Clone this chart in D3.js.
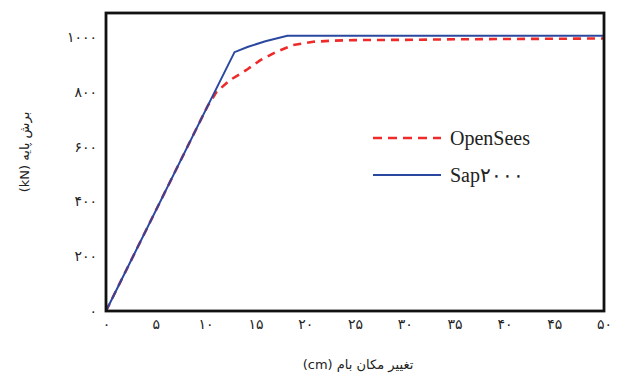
<!DOCTYPE html>
<html>
<head>
<meta charset="utf-8">
<script src="https://cdn.jsdelivr.net/npm/d3@7"></script>
<style>
  body { margin: 0; background: #fff; }
  .axis text { font-family: "DejaVu Sans", sans-serif; font-size: 14px; fill: #222; }
</style>
</head>
<body>
<svg id="chart" width="620" height="382"></svg>
<script>
// displacement (cm) and base shear (kN)
var openseesX = [0, 10.2, 11.1, 12.45, 14.1, 15.5, 17.1, 18.8, 20.8, 22.8, 25, 30, 35, 40, 50];
var openseesY = [0, 748, 800, 843, 880, 916, 946, 971, 983, 987, 989, 990, 992, 993, 995];
var sapX = [0, 10.2, 12.9, 14.2, 16, 18.2, 50];
var sapY = [0, 748, 945, 964, 985, 1005, 1005];
var xTicks = [0, 5, 10, 15, 20, 25, 30, 35, 40, 45, 50];
var yTicks = [0, 200, 400, 600, 800, 1000];
var seriesNames = ["OpenSees", "Sap۲۰۰۰"];

function fa(n){
	return String(n).replace(/[0-9]/g, function(d){ return "۰۱۲۳۴۵۶۷۸۹"[+d]; });
}

var svg = d3.select("#chart"),
	margin = {top: 13, right: 16, bottom: 71, left: 106},
	width = 620 - margin.left - margin.right,
	height = 382 - margin.top - margin.bottom,
	g = svg.append("g").attr("transform", "translate(" + margin.left + "," + margin.top + ")");

var x = d3.scaleLinear().domain([0, 50]).range([0, width]);
var y = d3.scaleLinear().domain([0, 1088]).range([height, 0]);

var line = d3.line()
	.x(function(d){ return x(d[0]); })
	.y(function(d){ return y(d[1]); });

var opensees = openseesX.map(function(v, i){ return [v, openseesY[i]]; });
var sap = sapX.map(function(v, i){ return [v, sapY[i]]; });

g.append("path")
	.datum(opensees)
	.attr("fill", "none")
	.attr("stroke", "#ee2a2a")
	.attr("stroke-width", 2.6)
	.attr("stroke-dasharray", "8,6")
	.attr("d", line);

g.append("path")
	.datum(sap)
	.attr("fill", "none")
	.attr("stroke", "#2a48a0")
	.attr("stroke-width", 2)
	.attr("d", line);

// frame
g.append("rect")
	.attr("width", width)
	.attr("height", height)
	.attr("fill", "none")
	.attr("stroke", "#111")
	.attr("stroke-width", 2.8);

g.append("g")
	.attr("class", "axis")
	.attr("transform", "translate(0," + height + ")")
	.call(d3.axisBottom(x).tickValues(xTicks).tickSize(0).tickPadding(8).tickFormat(fa))
	.call(function(s){ s.select(".domain").remove(); });

g.append("g")
	.attr("class", "axis")
	.call(d3.axisLeft(y).tickValues(yTicks).tickSize(0).tickPadding(9).tickFormat(fa))
	.call(function(s){ s.select(".domain").remove(); });

// axis titles
svg.append("text")
	.attr("x", 358)
	.attr("y", 369)
	.attr("text-anchor", "middle")
	.attr("direction", "rtl")
	.attr("font-family", "DejaVu Sans, sans-serif")
	.attr("font-size", 13)
	.attr("fill", "#222")
	.text("تغییر مکان بام (cm)");

svg.append("text")
	.attr("transform", "translate(29,152) rotate(-90)")
	.attr("text-anchor", "middle")
	.attr("direction", "rtl")
	.attr("font-family", "DejaVu Sans, sans-serif")
	.attr("font-size", 13)
	.attr("fill", "#222")
	.text("برش پایه (kN)");

// legend
var legend = svg.append("g")
	.selectAll("g")
	.data(seriesNames)
	.enter().append("g")
		.attr("transform", function(d, i){ return "translate(373," + (138 + i * 37) + ")"; });

legend.append("line")
	.attr("x1", 0)
	.attr("x2", 68)
	.attr("stroke", function(d, i){ return i == 0 ? "#ee2a2a" : "#2a48a0"; })
	.attr("stroke-width", function(d, i){ return i == 0 ? 2.6 : 2; })
	.attr("stroke-dasharray", function(d, i){ return i == 0 ? "9,6" : null; });

legend.append("text")
	.attr("x", 77)
	.attr("dy", "0.35em")
	.attr("font-family", "Liberation Serif, serif")
	.attr("font-size", 20)
	.attr("fill", "#222")
	.text(function(d){ return d; });
</script>
</body>
</html>
